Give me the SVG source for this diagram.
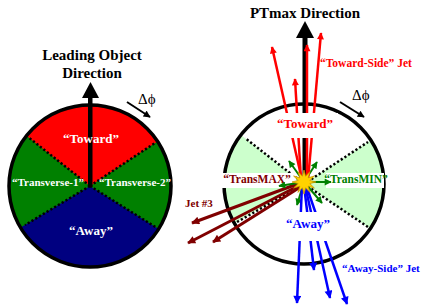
<svg xmlns="http://www.w3.org/2000/svg" width="446" height="306" viewBox="0 0 446 306">
<style>
text{font-family:"Liberation Serif","Times New Roman",serif;font-weight:bold;}
.ttl{font-size:15px;fill:#000;}
.dphi{font-size:15px;font-weight:normal;fill:#000;}
.wl{fill:#fff;}
.dot{stroke:#000;stroke-width:2.5;stroke-dasharray:2.2 2.2;fill:none;}
.rim{fill:none;stroke:#000;stroke-width:3.5;}
.red{stroke:#ff0000;stroke-width:2.5;fill:none;}
.blue{stroke:#0000ff;stroke-width:2.5;fill:none;}
.mar{stroke:#800000;stroke-width:3;fill:none;}
.grn{stroke:#008000;stroke-width:2;fill:none;}
</style>
<defs>
<clipPath id="cl"><circle cx="90" cy="186" r="81"/></clipPath>
<clipPath id="cr"><circle cx="304" cy="184" r="80"/></clipPath>
<marker id="ak" viewBox="0 0 10 10" refX="9" refY="5" markerWidth="9" markerHeight="7" markerUnits="userSpaceOnUse" orient="auto"><path d="M0,0L10,5L0,10z" fill="#000"/></marker>
<marker id="ar" viewBox="0 0 10 10" refX="9" refY="5" markerWidth="10" markerHeight="7" markerUnits="userSpaceOnUse" orient="auto"><path d="M0,0L10,5L0,10z" fill="#ff0000"/></marker>
<marker id="ab" viewBox="0 0 10 10" refX="9" refY="5" markerWidth="10" markerHeight="8" markerUnits="userSpaceOnUse" orient="auto"><path d="M0,0L10,5L0,10z" fill="#0000ff"/></marker>
<marker id="am" viewBox="0 0 10 10" refX="9" refY="5" markerWidth="10" markerHeight="8" markerUnits="userSpaceOnUse" orient="auto"><path d="M0,0L10,5L0,10z" fill="#800000"/></marker>
<marker id="ag" viewBox="0 0 10 10" refX="9" refY="5" markerWidth="8" markerHeight="7" markerUnits="userSpaceOnUse" orient="auto"><path d="M0,0L10,5L0,10z" fill="#008000"/></marker>
</defs>
<rect width="446" height="306" fill="#fff"/>

<g id="left-circle">
<circle cx="90" cy="186" r="81" fill="#008000"/>
<g clip-path="url(#cl)">
<polygon points="90,186 -34,88 -34,60 220,60 220,100" fill="#ff0000"/>
<polygon points="90,186 -40,264 -40,300 230,300 224,270" fill="#000080"/>
</g>
<line class="dot" x1="90" y1="186" x2="28" y2="137"/>
<line class="dot" x1="90" y1="186" x2="155" y2="143"/>
<line class="dot" x1="90" y1="186" x2="25" y2="225"/>
<line class="dot" x1="90" y1="186" x2="157" y2="228"/>
<circle class="rim" cx="90" cy="186" r="81"/>
</g>

<g id="left-title">
<text class="ttl" x="92" y="60" text-anchor="middle">Leading Object</text>
<text class="ttl" x="92" y="78" text-anchor="middle">Direction</text>
</g>

<g id="left-arrow">
<rect x="88" y="96" width="4.5" height="91" fill="#000"/>
<polygon points="82,98 99,98 90.5,82" fill="#000"/>
</g>

<g id="left-labels">
<text class="wl" x="91" y="143" font-size="13" text-anchor="middle">“Toward”</text>
<text class="wl" x="48" y="186" font-size="11" text-anchor="middle">“Transverse-1”</text>
<text class="wl" x="135" y="186" font-size="11" text-anchor="middle">“Transverse-2”</text>
<text class="wl" x="91" y="235" font-size="13" text-anchor="middle">“Away”</text>
</g>

<g id="left-dphi">
<text class="dphi" x="138" y="104">Δϕ</text>
<line x1="127" y1="102" x2="150" y2="117" stroke="#000" stroke-width="2" marker-end="url(#ak)"/>
</g>

<g id="right-circle">
<circle cx="304" cy="184" r="80" fill="#fff"/>
<g clip-path="url(#cr)">
<polygon points="304,184 186,92 170,260" fill="#ccffcc"/>
<polygon points="304,184 432,100 432,270" fill="#ccffcc"/>
</g>
<line class="dot" x1="304" y1="184" x2="245" y2="138"/>
<line class="dot" x1="304" y1="184" x2="368" y2="142"/>
<line class="dot" x1="304" y1="184" x2="237" y2="222"/>
<line class="dot" x1="304" y1="184" x2="368" y2="227"/>
<circle class="rim" cx="304" cy="184" r="80"/>
</g>

<g id="transmax">
<rect x="220" y="173" width="76" height="15" fill="#fff"/>
<text x="257" y="183" font-size="11.5" fill="#800000" text-anchor="middle">“TransMAX”</text>
</g>
<g id="transmin">
<rect x="326" y="173" width="58" height="15" fill="#fff"/>
<text x="356" y="183" font-size="11.5" fill="#008000" text-anchor="middle">“TransMIN”</text>
</g>

<g id="connectors">
<line class="mar" x1="300" y1="183" x2="192" y2="223" marker-end="url(#am)"/>
<line class="mar" x1="300" y1="185" x2="188" y2="243" marker-end="url(#am)"/>
<line class="mar" x1="302" y1="186" x2="213" y2="242" marker-end="url(#am)"/>
<line class="grn" x1="304" y1="182" x2="289" y2="161" marker-end="url(#ag)"/>
<line class="grn" x1="304" y1="182" x2="317" y2="162" marker-end="url(#ag)"/>
<line class="grn" x1="304" y1="182" x2="331" y2="182" marker-end="url(#ag)"/>
<line class="grn" x1="304" y1="182" x2="279" y2="186" marker-end="url(#ag)"/>
<line class="grn" x1="304" y1="182" x2="297" y2="205" marker-end="url(#ag)"/>
<line class="grn" x1="304" y1="182" x2="322" y2="203" marker-end="url(#ag)"/>
<rect x="302.5" y="36" width="5" height="148" fill="#000"/>
<polygon points="296,38 314,38 305,21" fill="#000"/>
<line class="red" x1="302" y1="180" x2="272" y2="47" marker-end="url(#ar)"/>
<line class="red" x1="301" y1="180" x2="295" y2="79" marker-end="url(#ar)"/>
<line class="red" x1="307" y1="180" x2="307" y2="45" marker-end="url(#ar)"/>
<line class="red" x1="308" y1="180" x2="321" y2="33" marker-end="url(#ar)"/>
<line class="blue" x1="302" y1="185" x2="297" y2="303" marker-end="url(#ab)"/>
<line class="blue" x1="304" y1="185" x2="314" y2="270" marker-end="url(#ab)"/>
<line class="blue" x1="305" y1="185" x2="330" y2="298" marker-end="url(#ab)"/>
<line class="blue" x1="306" y1="185" x2="347" y2="304" marker-end="url(#ab)"/>
<line x1="340" y1="102" x2="364" y2="117" stroke="#000" stroke-width="2" marker-end="url(#ak)"/>
</g>

<g id="star">
<polygon points="316,182 309.8,183.6 314.4,188 308.2,186.2 310,192.4 305.6,187.8 304,194 302.4,187.8 298,192.4 299.8,186.2 293.6,188 298.2,183.6 292,182 298.2,180.4 293.6,176 299.8,177.8 298,171.6 302.4,176.2 304,170 305.6,176.2 310,171.6 308.2,177.8 314.4,176 309.8,180.4" fill="#ffd200" stroke="#c89600" stroke-width="0.8"/>
</g>

<g id="toward-right">
<rect x="272" y="113" width="66" height="25" fill="#fff"/>
<text x="305" y="128" font-size="13" fill="#ff0000" text-anchor="middle">“Toward”</text>
</g>
<g id="away-right">
<rect x="282" y="212" width="54" height="29" fill="#fff"/>
<text x="308" y="228" font-size="13" fill="#0000ff" text-anchor="middle">“Away”</text>
</g>

<g id="right-title">
<text class="ttl" x="305" y="18" text-anchor="middle">PTmax Direction</text>
</g>
<g id="labels-right">
<text x="320" y="67" font-size="11.5" fill="#ff0000">“Toward-Side” Jet</text>
<text x="342" y="272" font-size="11" fill="#0000ff">“Away-Side” Jet</text>
<text x="185" y="207" font-size="11" fill="#800000">Jet #3</text>
<text class="dphi" x="352" y="100">Δϕ</text>
</g>
</svg>
